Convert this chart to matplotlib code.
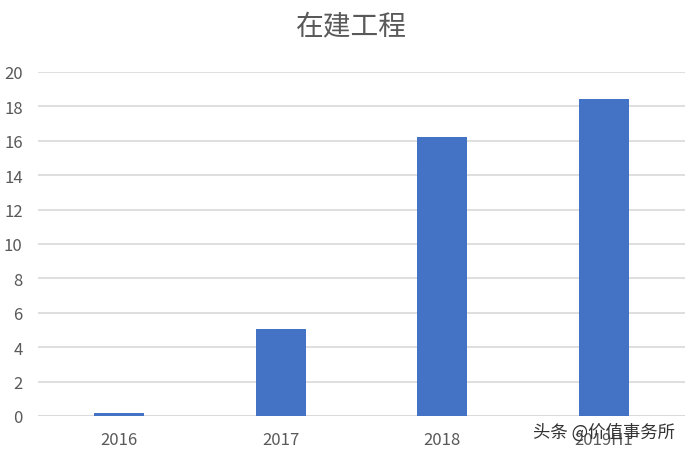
import matplotlib
matplotlib.use("Agg")
import matplotlib.pyplot as plt

plt.rcParams['font.family'] = ['Noto Sans CJK SC', 'DejaVu Sans']

## data
categories = ['2016', '2017', '2018', '2019H1']
values = [0.15, 5.06, 16.25, 18.45]
title = '在建工程'
watermark = '头条 @价值事务所'

bar_color = '#4472C4'
grid_color = '#D9D9D9'
text_color = '#595959'

fig = plt.figure(figsize=(6.9, 4.56), dpi=100)
ax = fig.add_axes([38 / 690, 39 / 456, 647 / 690, 344 / 456])

x = list(range(len(categories)))
ax.bar(x, values, width=0.31, color=bar_color, zorder=3)

ax.set_xlim(-0.5, len(categories) - 0.5)
ax.set_ylim(0, 20)
ax.set_yticks(range(0, 21, 2))
ax.set_xticks(x)
ax.set_xticklabels(categories)

ax.grid(axis='y', color=grid_color, linewidth=1.2, zorder=0)
for key, spine in ax.spines.items():
    spine.set_visible(False)
ax.axhline(0, color=grid_color, linewidth=1.2, zorder=2)

ax.tick_params(axis='both', length=0, labelsize=12, labelcolor=text_color)
ax.tick_params(axis='y', pad=11)
ax.tick_params(axis='x', pad=11)

fig.text(351 / 690, 1 - 26 / 456, title, ha='center', va='center',
         fontsize=20, color=text_color)

## watermark in the lower right (it sits over the last label, as in the source)
fig.text(604 / 690, 1 - 433 / 456, watermark, ha='center', va='center',
         fontsize=12.5, color='#333333')

fig.savefig('out.png', dpi=100)
